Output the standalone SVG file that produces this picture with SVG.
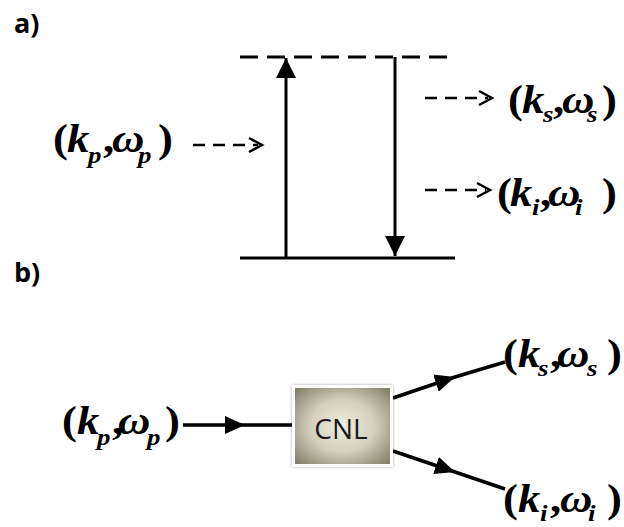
<svg xmlns="http://www.w3.org/2000/svg" width="624" height="527" viewBox="0 0 624 527">
<defs>
<style>
.lbl{font-family:"Open Sans","Liberation Sans",sans-serif;font-weight:bold;font-size:27px;fill:#000}
.m{font-family:"Liberation Serif","Times New Roman",serif;font-weight:bold;font-size:40px;fill:#000}
.it{font-style:italic}
.sub{font-size:24px;font-style:italic}
.lvl{stroke:#000;stroke-width:3;fill:none}
.tr{stroke:#000;stroke-width:3;fill:none}
.dsh{stroke:#000;stroke-width:2.5;fill:none;stroke-dasharray:12 8}
.chev{stroke:#000;stroke-width:2.5;fill:none}
.wire{stroke:#000;stroke-width:3.5;fill:none}
</style>
<marker id="ah" viewBox="0 0 20 20" refX="20" refY="10" markerUnits="userSpaceOnUse" markerWidth="20" markerHeight="20" orient="auto">
<path d="M0,0 L20,10 L0,20 Z" fill="#000"/>
</marker>
<marker id="am" viewBox="0 0 20 18" refX="20" refY="9" markerUnits="userSpaceOnUse" markerWidth="20" markerHeight="18" orient="auto">
<path d="M0,0 L20,9 L0,18 Z" fill="#000"/>
</marker>
<radialGradient id="g" cx="50%" cy="50%" r="65%">
<stop offset="0" stop-color="#efede0"/>
<stop offset="0.5" stop-color="#d3d0bc"/>
<stop offset="1" stop-color="#85826c"/>
</radialGradient>
<filter id="sh" x="-20%" y="-20%" width="140%" height="140%">
<feDropShadow dx="0" dy="0" stdDeviation="1.5" flood-color="#000" flood-opacity="0.35"/>
</filter>
</defs>

<g id="labels">
<text class="lbl" x="14" y="33">a)</text>
<text class="lbl" x="14" y="282">b)</text>
</g>

<g id="levels">
<line class="lvl" x1="240" y1="57" x2="452" y2="57" stroke-dasharray="18 9"/>
<line class="lvl" x1="240" y1="258" x2="455" y2="258"/>
</g>

<g id="connectors">
<line class="tr" x1="286" y1="258" x2="286" y2="58" marker-end="url(#ah)"/>
<line class="tr" x1="395" y1="57" x2="395" y2="256" marker-end="url(#ah)"/>
<line class="dsh" x1="193" y1="145" x2="258" y2="145"/>
<polyline class="chev" points="249,138 262,145 249,152"/>
<line class="dsh" x1="425" y1="98" x2="488" y2="98"/>
<polyline class="chev" points="479,91 492,98 479,105"/>
<line class="dsh" x1="425" y1="190" x2="486" y2="190"/>
<polyline class="chev" points="477,183 490,190 477,197"/>
<path class="wire" d="M183,425 L245,425 L292,425" marker-mid="url(#am)"/>
<path class="wire" d="M393,398 L455,377 L505,362" marker-mid="url(#am)"/>
<path class="wire" d="M393,451 L455,472 L505,489" marker-mid="url(#am)"/>
</g>

<g id="pump-a" transform="translate(53,152) scale(1.12,1)">
<text class="m"><tspan x="0" y="0">(</tspan><tspan class="it" x="12.5" y="0">k</tspan><tspan class="sub" x="31.2" y="11">p</tspan><tspan x="44.6" y="0">,</tspan><tspan class="it" x="52.7" y="0">ω</tspan><tspan class="sub" x="75.9" y="11">p</tspan><tspan x="93.7" y="0">)</tspan></text>
</g>
<g id="signal-a" transform="translate(508,113) scale(1.12,1)">
<text class="m"><tspan x="0" y="0">(</tspan><tspan class="it" x="12.5" y="0">k</tspan><tspan class="sub" x="31.2" y="9">s</tspan><tspan x="40.2" y="0">,</tspan><tspan class="it" x="48.2" y="0">ω</tspan><tspan class="sub" x="70.5" y="9">s</tspan><tspan x="83.9" y="0">)</tspan></text>
</g>
<g id="idler-a" transform="translate(497,206) scale(1.12,1)">
<text class="m"><tspan x="0" y="0">(</tspan><tspan class="it" x="11.6" y="0">k</tspan><tspan class="sub" x="31.2" y="9">i</tspan><tspan x="38.4" y="0">,</tspan><tspan class="it" x="45.5" y="0">ω</tspan><tspan class="sub" x="69.6" y="9">i</tspan><tspan x="93.7" y="0">)</tspan></text>
</g>

<g id="cnl">
<rect x="293.5" y="386.5" width="98" height="79" fill="url(#g)" stroke="#fff" stroke-width="3" filter="url(#sh)"/>
<text x="341" y="439" text-anchor="middle" font-family="'Open Sans','Liberation Sans',sans-serif" font-size="28" fill="#1a1a1a">CNL</text>
</g>
<g id="pump-b" transform="translate(62,434) scale(1.12,1)">
<text class="m"><tspan x="0" y="0">(</tspan><tspan class="it" x="13.4" y="0">k</tspan><tspan class="sub" x="31.2" y="11">p</tspan><tspan x="44.6" y="0">,</tspan><tspan class="it" x="50" y="0">ω</tspan><tspan class="sub" x="75.9" y="11">p</tspan><tspan x="92" y="0">)</tspan></text>
</g>
<g id="signal-b" transform="translate(503,367) scale(1.12,1)">
<text class="m"><tspan x="0" y="0">(</tspan><tspan class="it" x="13.4" y="0">k</tspan><tspan class="sub" x="31.2" y="9">s</tspan><tspan x="42" y="0">,</tspan><tspan class="it" x="48.2" y="0">ω</tspan><tspan class="sub" x="75" y="9">s</tspan><tspan x="92.9" y="0">)</tspan></text>
</g>
<g id="idler-b" transform="translate(503,512) scale(1.12,1)">
<text class="m"><tspan x="0" y="0">(</tspan><tspan class="it" x="13.4" y="0">k</tspan><tspan class="sub" x="33" y="9">i</tspan><tspan x="42" y="0">,</tspan><tspan class="it" x="50.9" y="0">ω</tspan><tspan class="sub" x="75.9" y="9">i</tspan><tspan x="92.9" y="0">)</tspan></text>
</g>
</svg>
